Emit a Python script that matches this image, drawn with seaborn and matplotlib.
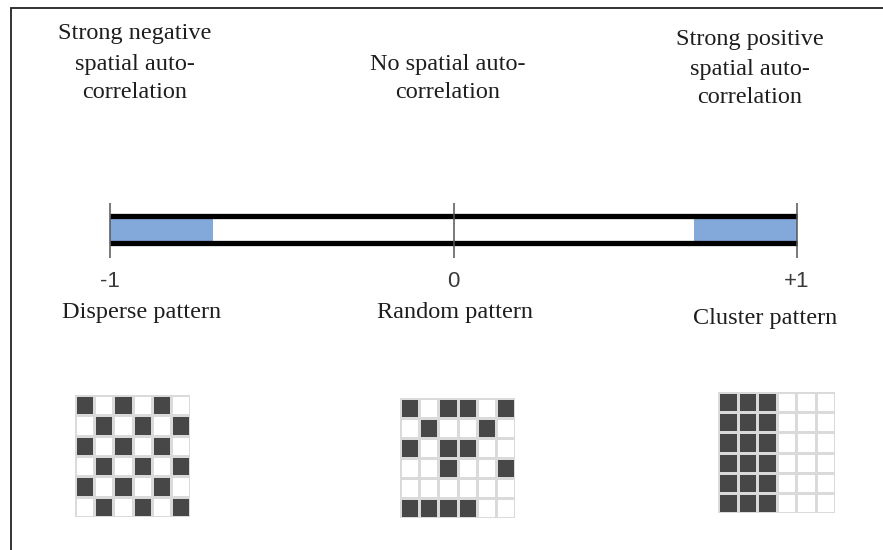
import numpy as np
import matplotlib
matplotlib.use("Agg")
import matplotlib.pyplot as plt
from matplotlib.colors import ListedColormap
import seaborn as sns

# scale of Moran's I
scale_ticks = [-1, 0, 1]
scale_tick_labels = ['-1', '0', '+1']
neg_band = [-1.0, -0.7]
pos_band = [0.7, 1.0]

top_labels = [
    ['Strong negative', 'spatial auto-', 'correlation'],
    ['No spatial auto-', 'correlation'],
    ['Strong positive', 'spatial auto-', 'correlation'],
]
pattern_labels = ['Disperse pattern', 'Random pattern', 'Cluster pattern']

# 1 = dark cell, 0 = white cell
disperse_grid = [
    [1, 0, 1, 0, 1, 0],
    [0, 1, 0, 1, 0, 1],
    [1, 0, 1, 0, 1, 0],
    [0, 1, 0, 1, 0, 1],
    [1, 0, 1, 0, 1, 0],
    [0, 1, 0, 1, 0, 1],
]
random_grid = [
    [1, 0, 1, 1, 0, 1],
    [0, 1, 0, 0, 1, 0],
    [1, 0, 1, 1, 0, 0],
    [0, 0, 1, 0, 0, 1],
    [0, 0, 0, 0, 0, 0],
    [1, 1, 1, 1, 0, 0],
]
cluster_grid = [
    [1, 1, 1, 0, 0, 0],
    [1, 1, 1, 0, 0, 0],
    [1, 1, 1, 0, 0, 0],
    [1, 1, 1, 0, 0, 0],
    [1, 1, 1, 0, 0, 0],
    [1, 1, 1, 0, 0, 0],
]

sns.set_style("white")
plt.rcParams['font.family'] = ['Liberation Serif', 'DejaVu Serif']

W, H = 883, 550
fig = plt.figure(figsize=(W / 100, H / 100), dpi=100)

def px_axes(left, top, width, height):
    return fig.add_axes([left / W, 1 - (top + height) / H, width / W, height / H])

# background layer for text and frame
bg = fig.add_axes([0, 0, 1, 1])
bg.set_xlim(0, W)
bg.set_ylim(H, 0)
bg.axis('off')
bg.plot([11, 11, W + 5], [H + 5, 8, 8], color='#222222', lw=1.3, solid_joinstyle='miter')

text_color = '#1e1e1e'
top_x = [135, 448, 750]
top_y = [[39, 70, 98], [70, 98], [45, 75, 103]]
for lines, x, ys in zip(top_labels, top_x, top_y):
    for line, y in zip(lines, ys):
        bg.text(x, y, line, ha='center', va='baseline', fontsize=17.5, color=text_color)

pat_x = [142, 455, 765]
pat_y = [318, 318, 324]
for lab, x, y in zip(pattern_labels, pat_x, pat_y):
    bg.text(x, y, lab, ha='center', va='baseline', fontsize=17.5, color=text_color)

# the scale bar (axes spans between the two black lines)
ax = px_axes(110, 215.5, 687, 27.5)
ax.set_xlim(-1, 1)
ax.set_ylim(0, 1)
ax.axis('off')
blue = '#82a9da'
for band in (neg_band, pos_band):
    ax.barh(0.5, band[1] - band[0], left=band[0], height=1, color=blue, lw=0)
ax.hlines([0, 1], -1, 1, color='black', lw=3.8, capstyle='butt', clip_on=False)
ax.vlines(scale_ticks, -0.55, 1.45, color='#555555', lw=1.1, clip_on=False)
for t, lab in zip(scale_ticks, scale_tick_labels):
    ax.text(t, -1.4, lab, ha='center', va='center', fontsize=16, color='#3a3a3a',
            family=['Liberation Sans', 'DejaVu Sans'], clip_on=False)

# pattern grids
cmap = ListedColormap(['white', '#474747'])
grid_boxes = [(75, 395, 115, 122), (400, 398, 115, 120), (718, 392, 117, 121)]
for grid, box in zip([disperse_grid, random_grid, cluster_grid], grid_boxes):
    gax = px_axes(*box)
    sns.heatmap(np.array(grid), cmap=cmap, vmin=0, vmax=1, cbar=False,
                linewidths=0.8, linecolor='#dadada', xticklabels=False,
                yticklabels=False, ax=gax)

fig.savefig('out.png', dpi=100)
